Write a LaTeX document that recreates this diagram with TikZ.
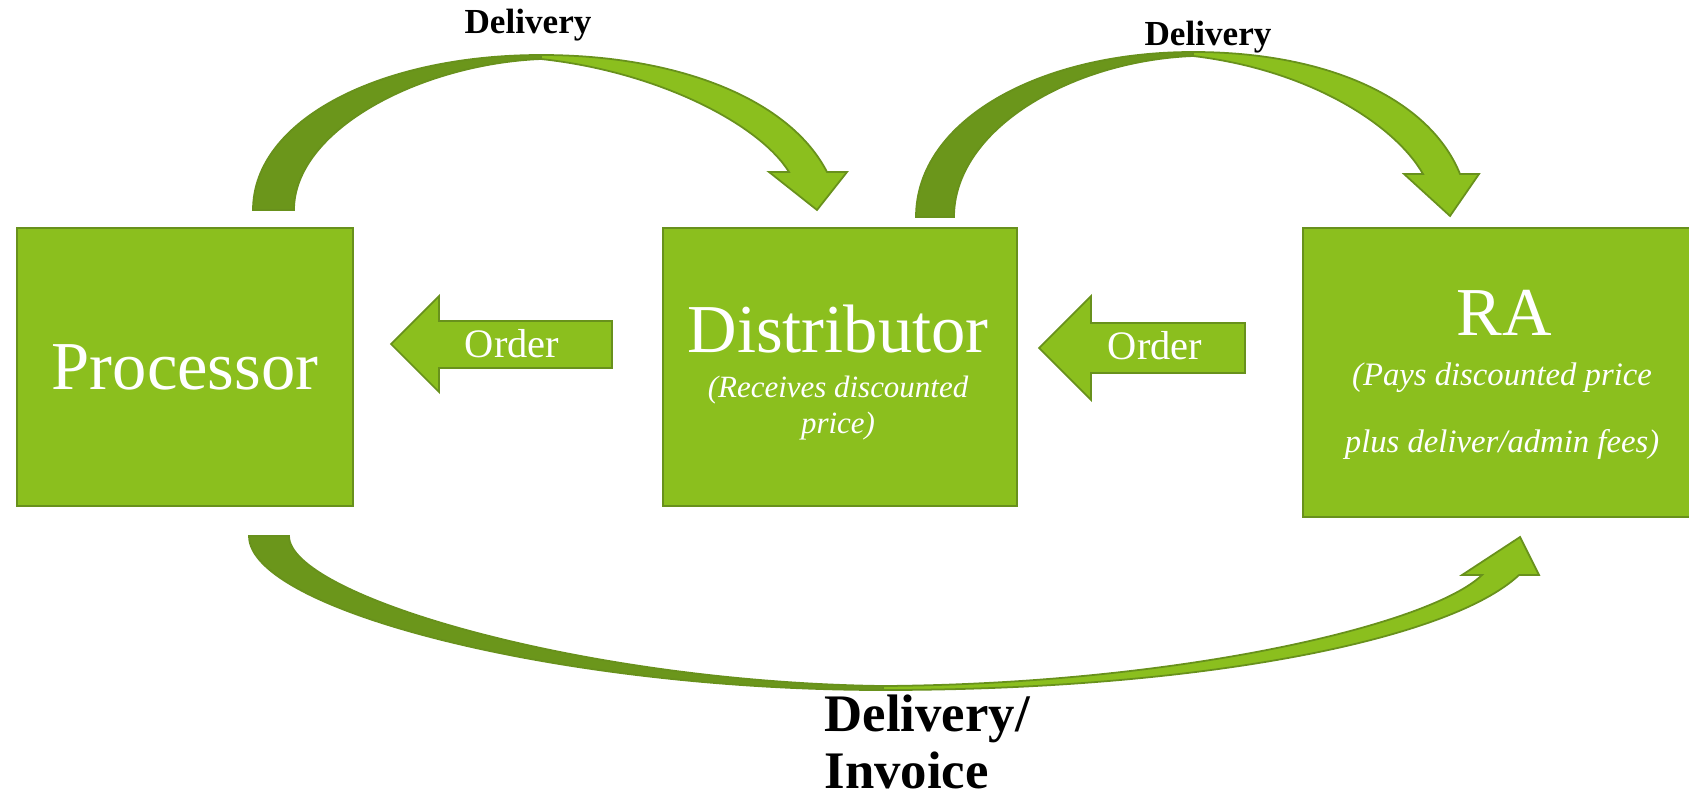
\documentclass[tikz,border=0pt]{standalone}
\usepackage{fontspec}
\setmainfont{Liberation Serif}
\definecolor{leaf}{RGB}{139,191,30}
\definecolor{moss}{RGB}{107,150,27}
\definecolor{rim}{RGB}{104,145,28}
\begin{document}
\begin{tikzpicture}[x=0.01cm, y=-0.01cm,
  box/.style={draw=rim, fill=leaf, line width=0.6pt, inner sep=0pt, anchor=north west},
  band/.style={fill=leaf, draw=rim, line width=0.5pt},
  backband/.style={fill=moss, draw=rim, line width=0.5pt},
  bigtext/.style={text=white, font=\fontsize{19.5}{22}\selectfont, inner sep=0pt},
  subtext/.style={text=white, font=\itshape\fontsize{8.8}{10.2}\selectfont, align=center, inner sep=0pt, anchor=base},
  dlabel/.style={font=\bfseries\fontsize{10}{12}\selectfont, inner sep=0pt, anchor=base}]

\useasboundingbox (0,0) rectangle (1689,797);

 % boxes
\node[box, minimum width=3.36cm, minimum height=2.78cm] (proc) at (16,227) {};
\node[box, minimum width=3.54cm, minimum height=2.78cm] (dist) at (662,227) {};
\node[box, minimum width=3.95cm, minimum height=2.89cm] (ra) at (1302,227) {};

\node[bigtext] (proctext) at (proc.center) {Processor};
\node[bigtext, anchor=base] (disttext) at (838,352) {Distributor};
\node[subtext] (distnote) at (838,433) {(Receives discounted\\price)};
\node[bigtext, anchor=base] (ratext) at (1504,335) {RA};
\node[subtext, font=\itshape\fontsize{9.3}{19}\selectfont] (ranote) at (1502,452) {(Pays discounted price\\plus deliver/admin fees)};

 % order arrows
\draw[band] (612,321) -- (439,321) -- (439,296) -- (391,344) -- (439,392) -- (439,368) -- (612,368) -- cycle;
\node[bigtext, font=\fontsize{11.5}{13}\selectfont, anchor=base] (order1) at (512,357) {Order};
\draw[band] (1245,323) -- (1091,323) -- (1091,296) -- (1039,348) -- (1091,400) -- (1091,373) -- (1245,373) -- cycle;
\node[bigtext, font=\fontsize{11.5}{13}\selectfont, anchor=base] (order2) at (1155,359) {Order};

 % delivery: processor to distributor
\draw[backband] (253,210) .. controls (253,120) and (380,55) .. (541,55) -- (541,59)
  .. controls (420,64) and (294,130) .. (294,210) -- cycle;
\draw[band] (541,55) .. controls (680,55) and (790,100) .. (827,172) -- (847,172) -- (817,210)
  -- (769,172) -- (789,172) .. controls (760,125) and (660,72) .. (541,59) -- cycle;
\node[dlabel] (deliv1) at (528,33) {Delivery};

 % delivery: distributor to RA
\draw[backband] (916,217) .. controls (916,120) and (1040,52) .. (1193,52) -- (1193,56)
  .. controls (1070,61) and (954,130) .. (954,217) -- cycle;
\draw[band] (1193,52) .. controls (1330,52) and (1430,100) .. (1460,174) -- (1479,174) -- (1450,216)
  -- (1404,174) -- (1423,174) .. controls (1395,125) and (1310,70) .. (1193,56) -- cycle;
\node[dlabel] (deliv2) at (1208,45) {Delivery};

 % delivery/invoice: processor to RA
\draw[backband] (249,536) .. controls (249,610) and (560,690) .. (883,690) -- (883,686)
  .. controls (580,682) and (289,595) .. (289,536) -- cycle;
\draw[band] (883,690) .. controls (1200,690) and (1450,640) .. (1519,575) -- (1539,575) -- (1520,537)
  -- (1462,575) -- (1482,575) .. controls (1430,625) and (1180,684) .. (883,686) -- cycle;
\node[dlabel, font=\bfseries\fontsize{15}{16}\selectfont, align=left, anchor=base west] (deliv3) at (824,788) {Delivery/\\Invoice};

%\draw[help lines, step=100] (0,0) grid (1689,797);
\end{tikzpicture}
\end{document}
